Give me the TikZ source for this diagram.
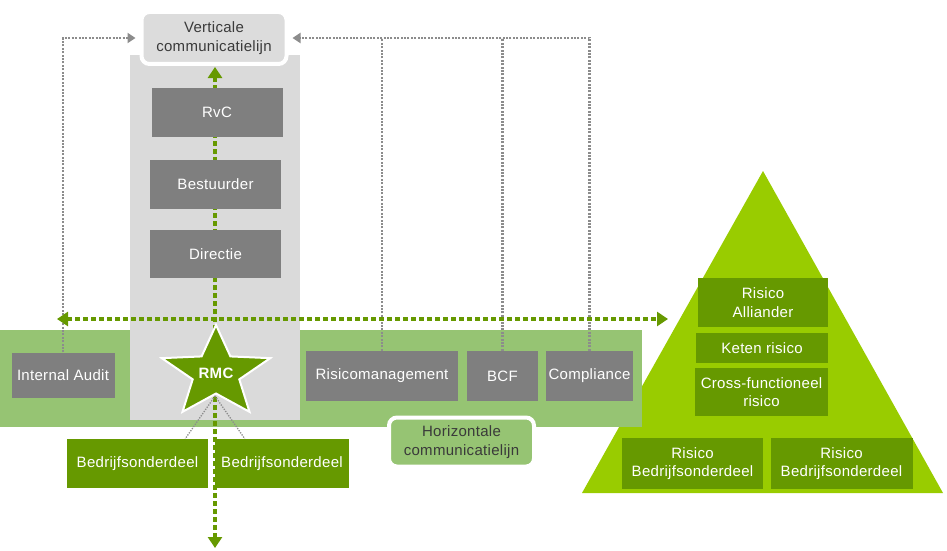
\documentclass[tikz,border=0pt]{standalone}
\usepackage{fontspec}
\setmainfont{Liberation Sans}[LetterSpace=2]
\usetikzlibrary{arrows.meta,calc}
\definecolor{gbox}{HTML}{7F7F7F}
\definecolor{gband}{HTML}{DADADA}
\definecolor{glab}{HTML}{DCDCDC}
\definecolor{gdark}{HTML}{669900}
\definecolor{glight}{HTML}{99CC00}
\definecolor{gpat}{HTML}{96C473}
\definecolor{gline}{HTML}{8C8C8C}
\definecolor{txtdark}{HTML}{3A3A3A}
\begin{document}
\begin{tikzpicture}[x=1pt,y=-1pt,
  every node/.style={font=\fontsize{15}{18.5}\selectfont, inner sep=2pt},
  graybox/.style={fill=gbox, text=white, align=center},
  greenbox/.style={fill=gdark, text=white, align=center},
  lab/.style={rounded corners=8pt, draw=white, line width=4pt, text=txtdark, align=center},
  gdots/.style={draw=gline, line width=2.4pt, dash pattern=on 2pt off 1.4pt},
  gtip/.style={-{Triangle[width=10pt,length=8pt,fill=gline]}},
  greendots/.style={draw=gdark, line width=4.5pt, dash pattern=on 4.5pt off 3.5pt},
  greentip/.style={{Triangle[width=14pt,length=11pt]}-{Triangle[width=14pt,length=11pt]}}]
\useasboundingbox (0,0) rectangle (947,551);

% pyramid
\fill[glight] (763,171) -- (943,493) -- (582,493) -- cycle;

% bands
\fill[gpat] (0,330) rectangle (642,427);
\fill[gband] (130,55) rectangle (300,420);

% labels
\node[lab, fill=gpat, minimum width=145pt, minimum height=49pt] (hlab) at (461.5,442) {Horizontale\\communicatielijn};
\node[lab, fill=glab, minimum width=145pt, minimum height=52pt] (vlab) at (214,38) {Verticale\\communicatielijn};

% boxes left
\node[graybox, minimum width=103pt, minimum height=45pt] (ia) at (63,375) {Internal Audit};
\node[graybox, minimum width=152pt, minimum height=50pt] (rm) at (382,376) {Risicomanagement};
\node[graybox, minimum width=71pt, minimum height=50pt] (bcf) at (502.5,376) {BCF};
\node[graybox, minimum width=87pt, minimum height=50pt] (comp) at (589.5,376) {Compliance};

% gray dotted connectors
\draw[gdots, gtip, shorten >=4pt] (ia.north) |- (vlab.west);
\draw[gdots] (rm.north) -- (rm.north |- vlab.east);
\draw[gdots] (bcf.north) -- (bcf.north |- vlab.east);
\draw[gdots, gtip, shorten >=4pt] (comp.north) |- (vlab.east);

% bedrijfsonderdeel boxes
\node[greenbox, minimum width=141pt, minimum height=49pt] (bd1) at (137.5,463.5) {Bedrijfsonderdeel};
\node[greenbox, minimum width=134pt, minimum height=49pt] (bd2) at (282,463.5) {Bedrijfsonderdeel};

% green dotted lines
\coordinate (vtop) at (215,67);
\coordinate (vbot) at (215,548);
\coordinate (hleft) at (57,319);
\coordinate (hright) at (668,319);
\draw[greendots, greentip] (vbot) -- (vtop);
\draw[greendots, greentip] (hleft) -- (hright);

% vertical chain
\node[graybox, minimum width=131pt, minimum height=49pt] (rvc) at (217,112.5) {RvC};
\node[graybox, minimum width=131pt, minimum height=49pt] (best) at (215.5,184.5) {Bestuurder};
\node[graybox, minimum width=131pt, minimum height=48pt] (dir) at (215.5,254) {Directie};

% star
\begin{scope}[shift={(216,373)}]
\draw[fill=gdark, draw=white, line width=2pt, line join=miter]
  (-90:57 and 48) -- (-54:24.5 and 20.5) -- (-18:57 and 48) -- (18:24.5 and 20.5)
  -- (54:57 and 48) -- (90:24.5 and 20.5) -- (126:57 and 48) -- (162:24.5 and 20.5)
  -- (198:57 and 48) -- (234:24.5 and 20.5) -- cycle;
\end{scope}
\node[text=white, font=\fontsize{15}{18}\selectfont\bfseries] (rmc) at (216,373) {RMC};
\coordinate (sb) at (215,396);
\draw[draw=gline, line width=1.3pt, dash pattern=on 1.3pt off 1.3pt] (sb) -- ($(bd1.north east)+(-23,0)$);
\draw[draw=gline, line width=1.3pt, dash pattern=on 1.3pt off 1.3pt] (sb) -- ($(bd2.north west)+(30,0)$);

% pyramid boxes
\node[greenbox, minimum width=130pt, minimum height=49pt] (ra) at (763,302.5) {Risico\\Alliander};
\node[greenbox, minimum width=132pt, minimum height=30pt] (kr) at (762,348) {Keten risico};
\node[greenbox, minimum width=133pt, minimum height=48pt] (cf) at (761.5,392) {Cross-functioneel\\risico};
\node[greenbox, minimum width=141pt, minimum height=51pt] (rb1) at (692.5,463.5) {Risico\\Bedrijfsonderdeel};
\node[greenbox, minimum width=142pt, minimum height=51pt] (rb2) at (841.5,463.5) {Risico\\Bedrijfsonderdeel};
\end{tikzpicture}
\end{document}
